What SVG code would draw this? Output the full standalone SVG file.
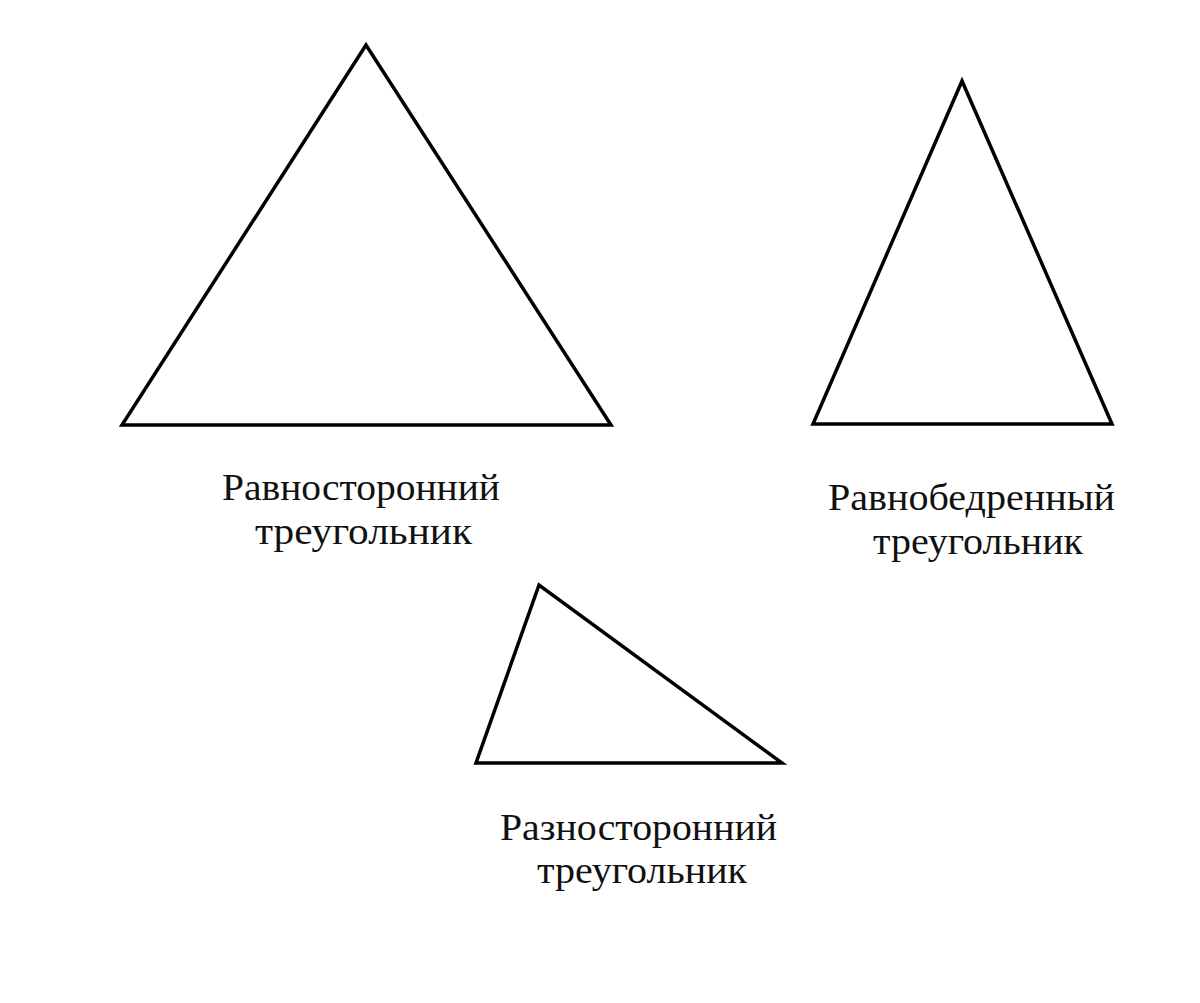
<svg xmlns="http://www.w3.org/2000/svg" width="1200" height="1003" viewBox="0 0 1200 1003">
<style>
.tri{fill:none;stroke:#000;stroke-width:3.5;stroke-linejoin:miter}
.lbl{font-family:"Liberation Serif","DejaVu Serif",serif;font-size:38px;fill:#111}
</style>
<rect width="1200" height="1003" fill="#fff"/>
<g id="equilateral">
<polygon class="tri" points="366,45 122,425 611,425"/>
<text class="lbl" x="222" y="500" textLength="278" lengthAdjust="spacingAndGlyphs">Равносторонний</text>
<text class="lbl" x="255" y="544" textLength="217" lengthAdjust="spacingAndGlyphs">треугольник</text>
</g>
<g id="isosceles">
<polygon class="tri" points="962,81 813,424 1112,424"/>
<text class="lbl" x="828" y="510" textLength="287" lengthAdjust="spacingAndGlyphs">Равнобедренный</text>
<text class="lbl" x="873" y="554" textLength="210" lengthAdjust="spacingAndGlyphs">треугольник</text>
</g>
<g id="scalene">
<polygon class="tri" points="539,585 476,763 782,763"/>
<text class="lbl" x="500" y="840" textLength="277" lengthAdjust="spacingAndGlyphs">Разносторонний</text>
<text class="lbl" x="537" y="883" textLength="210" lengthAdjust="spacingAndGlyphs">треугольник</text>
</g>
</svg>
